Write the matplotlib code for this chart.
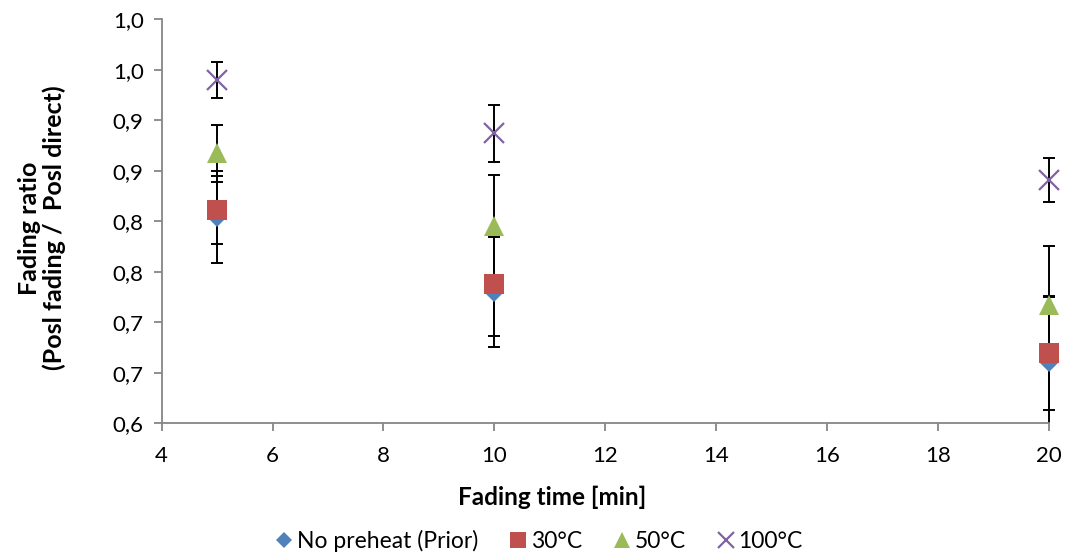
import matplotlib
matplotlib.use("Agg")
import matplotlib.pyplot as plt
from matplotlib.lines import Line2D
from matplotlib.transforms import Bbox, TransformedBbox

plt.rcParams['font.family'] = ['Lato', 'DejaVu Sans']

# Fading times (min)
fading_time = [5, 10, 20]

# Mean fading ratios and their error half-widths per preheat condition
no_preheat = [0.8044, 0.7301, 0.6607]
no_preheat_err = [0.0458, 0.0542, 0.0647]

preheat_30 = [0.8113, 0.7375, 0.6696]
preheat_30_err = [0.0337, 0.0507, 0.0564]

preheat_50 = [0.8673, 0.7954, 0.7172]
preheat_50_err = [0.0282, 0.0503, 0.0584]

preheat_100 = [0.9403, 0.8871, 0.8410]
preheat_100_err = [0.0178, 0.0285, 0.0221]

series_names = ["No preheat (Prior)", "30°C", "50°C", "100°C"]

x_ticks = [4, 6, 8, 10, 12, 14, 16, 18, 20]
y_ticks = [0.60, 0.65, 0.70, 0.75, 0.80, 0.85, 0.90, 0.95, 1.00]
y_tick_labels = ["0,6", "0,7", "0,7", "0,8", "0,8", "0,9", "0,9", "1,0", "1,0"]

W, H = 1069, 558
fig = plt.figure(figsize=(W / 100, H / 100), dpi=100)
ax = fig.add_axes([161.7 / W, 1 - 423.3 / H, (1048.7 - 161.7) / W, (423.3 - 19.5) / H])

# error bars are cut at the bottom of the plot area only
clip_box = TransformedBbox(Bbox([[-0.1, 0.0], [1.1, 1.1]]), ax.transAxes)

series = [
    (no_preheat, no_preheat_err, dict(marker='D', color='#4F81BD', ms=10.5)),
    (preheat_30, preheat_30_err, dict(marker='s', color='#C0504D', ms=14)),
    (preheat_50, preheat_50_err, dict(marker='^', color='#9BBB59', ms=15)),
    (preheat_100, preheat_100_err, dict(marker='x', color='#8064A2', ms=14, mew=1.6)),
]

handles = []
for (vals, errs, style), name in zip(series, series_names):
    eb = ax.errorbar(fading_time, vals, yerr=errs, fmt='none', ecolor='black',
                     elinewidth=1.4, capsize=4.5, capthick=1.4, zorder=2)
    for art in eb.lines[1] + eb.lines[2]:
        art.set_clip_box(clip_box)
    kw = dict(style)
    marker = kw.pop('marker')
    color = kw.pop('color')
    ms = kw.pop('ms')
    mew = kw.pop('mew', 0)
    ax.plot(fading_time, vals, linestyle='none', marker=marker, color=color,
            markersize=ms, markeredgewidth=mew, zorder=3, clip_on=False)
    handles.append(Line2D([], [], linestyle='none', marker=marker, color=color,
                          markersize=ms * 0.8, markeredgewidth=mew))

ax.set_xlim(4, 20)
ax.set_ylim(0.6, 1.0)
ax.set_xticks(x_ticks)
ax.set_yticks(y_ticks)
ax.set_yticklabels(y_tick_labels)

for side in ('top', 'right'):
    ax.spines[side].set_visible(False)
for side in ('left', 'bottom'):
    ax.spines[side].set_color('#868686')
    ax.spines[side].set_linewidth(1.3)
ax.tick_params(axis='both', direction='out', length=6, width=1.3, color='#868686',
               labelsize=16, labelcolor='black')
ax.tick_params(axis='y', pad=7)
ax.tick_params(axis='x', pad=10)

fig.text(552 / W, 1 - 497 / H, "Fading time [min]", ha='center', va='center',
         fontsize=17.5, fontweight='bold')
fig.text(42 / W, 1 - 228 / H, "Fading ratio\n(Posl fading /  Posl direct)",
         ha='center', va='center', rotation=90, fontsize=18, fontweight='bold',
         multialignment='center', linespacing=1.1)

fig.legend(handles, series_names, loc='center', ncol=4,
           bbox_to_anchor=(539 / W, 1 - 541 / H), frameon=False, fontsize=16.5,
           handlelength=0.8, handletextpad=0.15, columnspacing=1.35)

fig.savefig("out.png", dpi=100)
